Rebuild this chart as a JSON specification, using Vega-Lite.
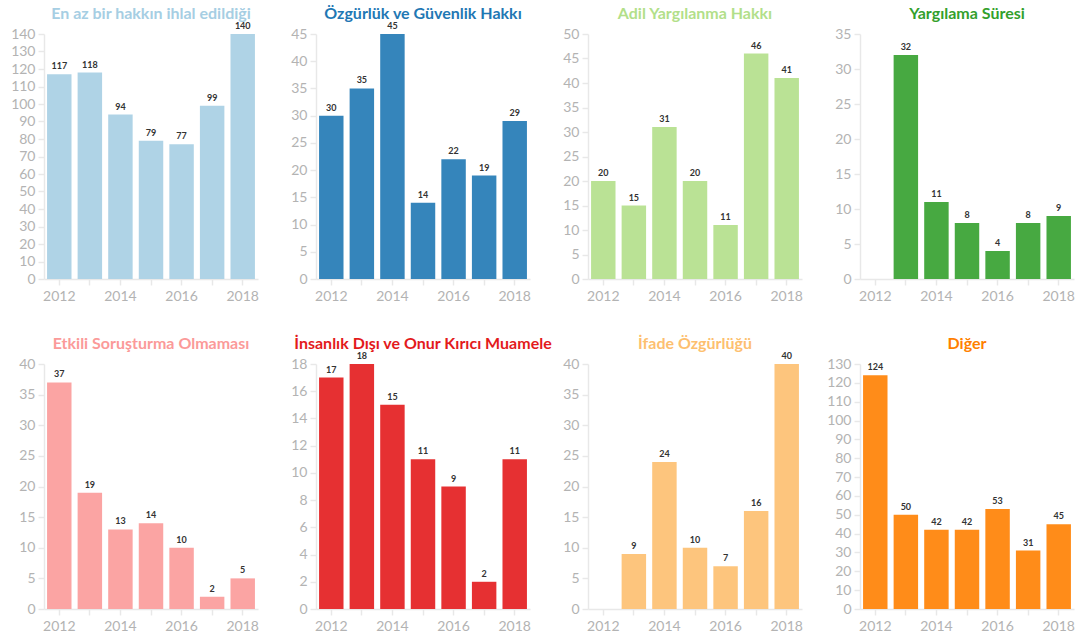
{
  "$schema": "https://vega.github.io/schema/vega-lite/v6.json",
  "padding": {"left": 10, "top": 6, "right": 5, "bottom": 5},
  "bounds": "flush",
  "columns": 4,
  "spacing": {"row": 85, "column": 58},
  "data": {"values": [
    {"kategori": "En az bir hakkın ihlal edildiği", "yil": 2012, "sayi": 117},
    {"kategori": "En az bir hakkın ihlal edildiği", "yil": 2013, "sayi": 118},
    {"kategori": "En az bir hakkın ihlal edildiği", "yil": 2014, "sayi": 94},
    {"kategori": "En az bir hakkın ihlal edildiği", "yil": 2015, "sayi": 79},
    {"kategori": "En az bir hakkın ihlal edildiği", "yil": 2016, "sayi": 77},
    {"kategori": "En az bir hakkın ihlal edildiği", "yil": 2017, "sayi": 99},
    {"kategori": "En az bir hakkın ihlal edildiği", "yil": 2018, "sayi": 140},
    {"kategori": "Özgürlük ve Güvenlik Hakkı", "yil": 2012, "sayi": 30},
    {"kategori": "Özgürlük ve Güvenlik Hakkı", "yil": 2013, "sayi": 35},
    {"kategori": "Özgürlük ve Güvenlik Hakkı", "yil": 2014, "sayi": 45},
    {"kategori": "Özgürlük ve Güvenlik Hakkı", "yil": 2015, "sayi": 14},
    {"kategori": "Özgürlük ve Güvenlik Hakkı", "yil": 2016, "sayi": 22},
    {"kategori": "Özgürlük ve Güvenlik Hakkı", "yil": 2017, "sayi": 19},
    {"kategori": "Özgürlük ve Güvenlik Hakkı", "yil": 2018, "sayi": 29},
    {"kategori": "Adil Yargılanma Hakkı", "yil": 2012, "sayi": 20},
    {"kategori": "Adil Yargılanma Hakkı", "yil": 2013, "sayi": 15},
    {"kategori": "Adil Yargılanma Hakkı", "yil": 2014, "sayi": 31},
    {"kategori": "Adil Yargılanma Hakkı", "yil": 2015, "sayi": 20},
    {"kategori": "Adil Yargılanma Hakkı", "yil": 2016, "sayi": 11},
    {"kategori": "Adil Yargılanma Hakkı", "yil": 2017, "sayi": 46},
    {"kategori": "Adil Yargılanma Hakkı", "yil": 2018, "sayi": 41},
    {"kategori": "Yargılama Süresi", "yil": 2013, "sayi": 32},
    {"kategori": "Yargılama Süresi", "yil": 2014, "sayi": 11},
    {"kategori": "Yargılama Süresi", "yil": 2015, "sayi": 8},
    {"kategori": "Yargılama Süresi", "yil": 2016, "sayi": 4},
    {"kategori": "Yargılama Süresi", "yil": 2017, "sayi": 8},
    {"kategori": "Yargılama Süresi", "yil": 2018, "sayi": 9},
    {"kategori": "Etkili Soruşturma Olmaması", "yil": 2012, "sayi": 37},
    {"kategori": "Etkili Soruşturma Olmaması", "yil": 2013, "sayi": 19},
    {"kategori": "Etkili Soruşturma Olmaması", "yil": 2014, "sayi": 13},
    {"kategori": "Etkili Soruşturma Olmaması", "yil": 2015, "sayi": 14},
    {"kategori": "Etkili Soruşturma Olmaması", "yil": 2016, "sayi": 10},
    {"kategori": "Etkili Soruşturma Olmaması", "yil": 2017, "sayi": 2},
    {"kategori": "Etkili Soruşturma Olmaması", "yil": 2018, "sayi": 5},
    {"kategori": "İnsanlık Dışı ve Onur Kırıcı Muamele", "yil": 2012, "sayi": 17},
    {"kategori": "İnsanlık Dışı ve Onur Kırıcı Muamele", "yil": 2013, "sayi": 18},
    {"kategori": "İnsanlık Dışı ve Onur Kırıcı Muamele", "yil": 2014, "sayi": 15},
    {"kategori": "İnsanlık Dışı ve Onur Kırıcı Muamele", "yil": 2015, "sayi": 11},
    {"kategori": "İnsanlık Dışı ve Onur Kırıcı Muamele", "yil": 2016, "sayi": 9},
    {"kategori": "İnsanlık Dışı ve Onur Kırıcı Muamele", "yil": 2017, "sayi": 2},
    {"kategori": "İnsanlık Dışı ve Onur Kırıcı Muamele", "yil": 2018, "sayi": 11},
    {"kategori": "İfade Özgürlüğü", "yil": 2013, "sayi": 9},
    {"kategori": "İfade Özgürlüğü", "yil": 2014, "sayi": 24},
    {"kategori": "İfade Özgürlüğü", "yil": 2015, "sayi": 10},
    {"kategori": "İfade Özgürlüğü", "yil": 2016, "sayi": 7},
    {"kategori": "İfade Özgürlüğü", "yil": 2017, "sayi": 16},
    {"kategori": "İfade Özgürlüğü", "yil": 2018, "sayi": 40},
    {"kategori": "Diğer", "yil": 2012, "sayi": 124},
    {"kategori": "Diğer", "yil": 2013, "sayi": 50},
    {"kategori": "Diğer", "yil": 2014, "sayi": 42},
    {"kategori": "Diğer", "yil": 2015, "sayi": 42},
    {"kategori": "Diğer", "yil": 2016, "sayi": 53},
    {"kategori": "Diğer", "yil": 2017, "sayi": 31},
    {"kategori": "Diğer", "yil": 2018, "sayi": 45}
  ]},
  "concat": [
    {
      "width": 214, "height": 245,
      "title": {"text": "En az bir hakkın ihlal edildiği", "color": "#a6cee3", "offset": 0},
      "transform": [{"filter": {"field": "kategori", "equal": "En az bir hakkın ihlal edildiği"}}],
      "encoding": {
        "x": {"field": "yil", "type": "ordinal", "title": null, "scale": {"domain": [2012, 2013, 2014, 2015, 2016, 2017, 2018], "paddingInner": 0.2, "paddingOuter": 0.1}},
        "y": {"field": "sayi", "type": "quantitative", "title": null, "scale": {"domain": [0, 140]}, "axis": {"values": [0, 10, 20, 30, 40, 50, 60, 70, 80, 90, 100, 110, 120, 130, 140]}}
      },
      "layer": [
        {"mark": {"type": "bar", "color": "#a6cee3", "opacity": 0.9}},
        {"mark": {"type": "text", "dy": -5, "baseline": "alphabetic", "fontWeight": "bold", "fontSize": 9, "color": "#333333"}, "encoding": {"text": {"field": "sayi", "type": "quantitative"}}}
      ]
    },
    {
      "width": 214, "height": 245,
      "title": {"text": "Özgürlük ve Güvenlik Hakkı", "color": "#1f78b4", "offset": 0},
      "transform": [{"filter": {"field": "kategori", "equal": "Özgürlük ve Güvenlik Hakkı"}}],
      "encoding": {
        "x": {"field": "yil", "type": "ordinal", "title": null, "scale": {"domain": [2012, 2013, 2014, 2015, 2016, 2017, 2018], "paddingInner": 0.2, "paddingOuter": 0.1}},
        "y": {"field": "sayi", "type": "quantitative", "title": null, "scale": {"domain": [0, 45]}, "axis": {"values": [0, 5, 10, 15, 20, 25, 30, 35, 40, 45]}}
      },
      "layer": [
        {"mark": {"type": "bar", "color": "#1f78b4", "opacity": 0.9}},
        {"mark": {"type": "text", "dy": -5, "baseline": "alphabetic", "fontWeight": "bold", "fontSize": 9, "color": "#333333"}, "encoding": {"text": {"field": "sayi", "type": "quantitative"}}}
      ]
    },
    {
      "width": 214, "height": 245,
      "title": {"text": "Adil Yargılanma Hakkı", "color": "#b2df8a", "offset": 5},
      "transform": [{"filter": {"field": "kategori", "equal": "Adil Yargılanma Hakkı"}}],
      "encoding": {
        "x": {"field": "yil", "type": "ordinal", "title": null, "scale": {"domain": [2012, 2013, 2014, 2015, 2016, 2017, 2018], "paddingInner": 0.2, "paddingOuter": 0.1}},
        "y": {"field": "sayi", "type": "quantitative", "title": null, "scale": {"domain": [0, 50]}, "axis": {"values": [0, 5, 10, 15, 20, 25, 30, 35, 40, 45, 50]}}
      },
      "layer": [
        {"mark": {"type": "bar", "color": "#b2df8a", "opacity": 0.9}},
        {"mark": {"type": "text", "dy": -5, "baseline": "alphabetic", "fontWeight": "bold", "fontSize": 9, "color": "#333333"}, "encoding": {"text": {"field": "sayi", "type": "quantitative"}}}
      ]
    },
    {
      "width": 214, "height": 245,
      "title": {"text": "Yargılama Süresi", "color": "#33a02c", "offset": 5},
      "transform": [{"filter": {"field": "kategori", "equal": "Yargılama Süresi"}}],
      "encoding": {
        "x": {"field": "yil", "type": "ordinal", "title": null, "scale": {"domain": [2012, 2013, 2014, 2015, 2016, 2017, 2018], "paddingInner": 0.2, "paddingOuter": 0.1}},
        "y": {"field": "sayi", "type": "quantitative", "title": null, "scale": {"domain": [0, 35]}, "axis": {"values": [0, 5, 10, 15, 20, 25, 30, 35]}}
      },
      "layer": [
        {"mark": {"type": "bar", "color": "#33a02c", "opacity": 0.9}},
        {"mark": {"type": "text", "dy": -5, "baseline": "alphabetic", "fontWeight": "bold", "fontSize": 9, "color": "#333333"}, "encoding": {"text": {"field": "sayi", "type": "quantitative"}}}
      ]
    },
    {
      "width": 214, "height": 245,
      "title": {"text": "Etkili Soruşturma Olmaması", "color": "#fb9a99", "offset": 5},
      "transform": [{"filter": {"field": "kategori", "equal": "Etkili Soruşturma Olmaması"}}],
      "encoding": {
        "x": {"field": "yil", "type": "ordinal", "title": null, "scale": {"domain": [2012, 2013, 2014, 2015, 2016, 2017, 2018], "paddingInner": 0.2, "paddingOuter": 0.1}},
        "y": {"field": "sayi", "type": "quantitative", "title": null, "scale": {"domain": [0, 40]}, "axis": {"values": [0, 5, 10, 15, 20, 25, 30, 35, 40]}}
      },
      "layer": [
        {"mark": {"type": "bar", "color": "#fb9a99", "opacity": 0.9}},
        {"mark": {"type": "text", "dy": -5, "baseline": "alphabetic", "fontWeight": "bold", "fontSize": 9, "color": "#333333"}, "encoding": {"text": {"field": "sayi", "type": "quantitative"}}}
      ]
    },
    {
      "width": 214, "height": 245,
      "title": {"text": "İnsanlık Dışı ve Onur Kırıcı Muamele", "color": "#e31a1c", "offset": 0},
      "transform": [{"filter": {"field": "kategori", "equal": "İnsanlık Dışı ve Onur Kırıcı Muamele"}}],
      "encoding": {
        "x": {"field": "yil", "type": "ordinal", "title": null, "scale": {"domain": [2012, 2013, 2014, 2015, 2016, 2017, 2018], "paddingInner": 0.2, "paddingOuter": 0.1}},
        "y": {"field": "sayi", "type": "quantitative", "title": null, "scale": {"domain": [0, 18]}, "axis": {"values": [0, 2, 4, 6, 8, 10, 12, 14, 16, 18]}}
      },
      "layer": [
        {"mark": {"type": "bar", "color": "#e31a1c", "opacity": 0.9}},
        {"mark": {"type": "text", "dy": -5, "baseline": "alphabetic", "fontWeight": "bold", "fontSize": 9, "color": "#333333"}, "encoding": {"text": {"field": "sayi", "type": "quantitative"}}}
      ]
    },
    {
      "width": 214, "height": 245,
      "title": {"text": "İfade Özgürlüğü", "color": "#fdbf6f", "offset": 0},
      "transform": [{"filter": {"field": "kategori", "equal": "İfade Özgürlüğü"}}],
      "encoding": {
        "x": {"field": "yil", "type": "ordinal", "title": null, "scale": {"domain": [2012, 2013, 2014, 2015, 2016, 2017, 2018], "paddingInner": 0.2, "paddingOuter": 0.1}},
        "y": {"field": "sayi", "type": "quantitative", "title": null, "scale": {"domain": [0, 40]}, "axis": {"values": [0, 5, 10, 15, 20, 25, 30, 35, 40]}}
      },
      "layer": [
        {"mark": {"type": "bar", "color": "#fdbf6f", "opacity": 0.9}},
        {"mark": {"type": "text", "dy": -5, "baseline": "alphabetic", "fontWeight": "bold", "fontSize": 9, "color": "#333333"}, "encoding": {"text": {"field": "sayi", "type": "quantitative"}}}
      ]
    },
    {
      "width": 214, "height": 245,
      "title": {"text": "Diğer", "color": "#ff7f00", "offset": 5},
      "transform": [{"filter": {"field": "kategori", "equal": "Diğer"}}],
      "encoding": {
        "x": {"field": "yil", "type": "ordinal", "title": null, "scale": {"domain": [2012, 2013, 2014, 2015, 2016, 2017, 2018], "paddingInner": 0.2, "paddingOuter": 0.1}},
        "y": {"field": "sayi", "type": "quantitative", "title": null, "scale": {"domain": [0, 130]}, "axis": {"values": [0, 10, 20, 30, 40, 50, 60, 70, 80, 90, 100, 110, 120, 130]}}
      },
      "layer": [
        {"mark": {"type": "bar", "color": "#ff7f00", "opacity": 0.9}},
        {"mark": {"type": "text", "dy": -5, "baseline": "alphabetic", "fontWeight": "bold", "fontSize": 9, "color": "#333333"}, "encoding": {"text": {"field": "sayi", "type": "quantitative"}}}
      ]
    }
  ],
  "config": {
    "font": "Lato",
    "view": {"stroke": null},
    "axis": {"grid": false, "domainColor": "#e8e8e8", "tickColor": "#e8e8e8", "labelColor": "#b3b3b3", "labelFontSize": 14, "domainWidth": 1.5, "tickWidth": 1.5},
    "axisX": {"labelAngle": 0, "tickSize": 6, "labelPadding": 4, "labelExpr": "datum.value % 2 == 0 ? datum.label : ''"},
    "axisY": {"tickSize": 6, "labelPadding": 3, "minExtent": 30, "maxExtent": 30},
    "title": {"fontSize": 16, "fontWeight": "bold", "anchor": "middle", "frame": "group", "baseline": "alphabetic"}
  }
}
